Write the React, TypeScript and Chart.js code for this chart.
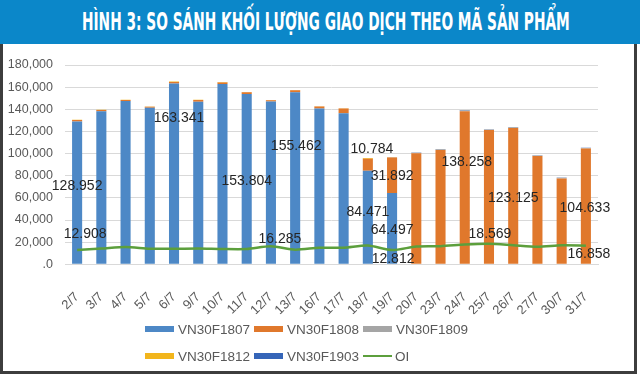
import React, { useEffect, useLayoutEffect, useRef } from 'react';
import { Chart, registerables } from 'chart.js';

Chart.register(...registerables);

const categories = ['2/7', '3/7', '4/7', '5/7', '6/7', '9/7', '10/7', '11/7', '12/7', '13/7', '16/7', '17/7', '18/7', '19/7', '20/7', '23/7', '24/7', '25/7', '26/7', '27/7', '30/7', '31/7'];

const vn30f1807 = [128952, 138300, 147400, 141300, 163341, 146800, 162900, 153804, 147000, 155462, 140800, 136500, 84471, 64497, 0, 0, 0, 0, 0, 0, 0, 0];
const vn30f1808 = [1300, 1000, 1000, 1000, 1400, 1600, 1400, 1500, 1100, 1800, 1800, 4300, 10784, 31892, 100200, 103200, 138258, 121200, 123125, 97700, 77500, 104633];
const vn30f1809 = [0, 0, 0, 0, 0, 0, 0, 0, 0, 0, 0, 0, 0, 300, 600, 600, 700, 600, 600, 600, 600, 400];
const vn30f1812 = [250, 250, 250, 250, 250, 250, 250, 250, 250, 250, 250, 250, 700, 300, 0, 0, 0, 0, 0, 0, 0, 0];
const vn30f1903 = [0, 0, 0, 0, 0, 0, 0, 0, 0, 0, 0, 0, 0, 0, 250, 250, 300, 250, 250, 250, 250, 200];
const oi = [12908, 14200, 15700, 14100, 14000, 14300, 13800, 13800, 16285, 13200, 15000, 15000, 16900, 12812, 16100, 16400, 17900, 18569, 17200, 15800, 17100, 16858];

const yTicks = [0, 20000, 40000, 60000, 80000, 100000, 120000, 140000, 160000, 180000];

const seriesNames = ['VN30F1807', 'VN30F1808', 'VN30F1809', 'VN30F1812', 'VN30F1903', 'OI'];
const seriesColors = ['#4d88c6', '#e0782c', '#a5a5a5', '#f2b51c', '#3565b8', '#5c9f3c'];

// value labels: dataset index, category index, anchor (in data units) where the label sits, pixel nudge
const labelSpecs = [
  { ds: 0, i: 0, at: 70200, dx: 0 },
  { ds: 5, i: 0, at: 27400, dx: 8 },
  { ds: 0, i: 4, at: 132300, dx: 5 },
  { ds: 0, i: 7, at: 75300, dx: 0 },
  { ds: 5, i: 8, at: 23100, dx: 9 },
  { ds: 0, i: 9, at: 107000, dx: 1 },
  { ds: 1, i: 12, at: 104200, dx: 4 },
  { ds: 0, i: 12, at: 46700, dx: 0 },
  { ds: 1, i: 13, at: 79200, dx: 0 },
  { ds: 0, i: 13, at: 31000, dx: 0 },
  { ds: 5, i: 13, at: 4500, dx: 1 },
  { ds: 1, i: 16, at: 92200, dx: 2 },
  { ds: 5, i: 17, at: 27400, dx: 1 },
  { ds: 1, i: 18, at: 60200, dx: 0 },
  { ds: 1, i: 21, at: 50900, dx: -1 },
  { ds: 5, i: 21, at: 9300, dx: 3 },
];

const fmtDot = (v: number) => String(Math.round(v)).replace(/\B(?=(\d{3})+(?!\d))/g, '.');
const fmtComma = (v: number) => (v === 0 ? '.0' : String(Math.round(v)).replace(/\B(?=(\d{3})+(?!\d))/g, ','));

const FONT = '"Liberation Sans", Arial, sans-serif';

const labelPlugin = {
  id: 'valueLabels',
  afterDatasetsDraw(chart: any) {
    const ctx = chart.ctx;
    const y = chart.scales.y;
    ctx.save();
    ctx.font = `14px ${FONT}`;
    ctx.fillStyle = '#262626';
    ctx.textAlign = 'center';
    ctx.textBaseline = 'middle';
    for (const s of labelSpecs) {
      const el = chart.getDatasetMeta(s.ds).data[s.i];
      const v = chart.data.datasets[s.ds].data[s.i];
      ctx.fillText(fmtDot(v), el.x + s.dx, y.getPixelForValue(s.at));
    }
    ctx.restore();
  },
};

function Title() {
  const ref = useRef<HTMLSpanElement>(null);
  useLayoutEffect(() => {
    const el = ref.current;
    if (!el) return;
    el.style.transform = 'none';
    const w = el.offsetWidth;
    if (w > 0) el.style.transform = `scaleX(${488 / w})`;
  }, []);
  return (
    <div style={{ position: 'absolute', left: 0, top: 0, width: 640, height: 44, background: '#0b87c9' }}>
      <span
        ref={ref}
        style={{
          position: 'absolute',
          left: 82,
          top: 7,
          whiteSpace: 'nowrap',
          transformOrigin: 'left center',
          color: '#ffffff',
          fontFamily: '"Liberation Sans Narrow", "DejaVu Sans Condensed", "Liberation Sans", sans-serif',
          fontWeight: 700,
          fontSize: 25,
          lineHeight: '30px',
        }}
      >
        HÌNH 3: SO SÁNH KHỐI LƯỢNG GIAO DỊCH THEO MÃ SẢN PHẨM
      </span>
    </div>
  );
}

function Legend() {
  const pos = [
    { x: 145, y: 329 },
    { x: 254, y: 329 },
    { x: 363, y: 329 },
    { x: 145, y: 356 },
    { x: 254, y: 356 },
    { x: 363, y: 356 },
  ];
  return (
    <>
      {seriesNames.map((n, k) => (
        <div key={n} style={{ position: 'absolute', left: pos[k].x, top: pos[k].y - 10, height: 20, display: 'flex', alignItems: 'center' }}>
          <div style={{ width: 29, height: k === 5 ? 2 : 6, background: seriesColors[k] }} />
          <span style={{ marginLeft: k === 5 ? 3 : 4, fontFamily: FONT, fontSize: 13.5, color: '#595959', whiteSpace: 'nowrap' }}>{n}</span>
        </div>
      ))}
    </>
  );
}

export default function App() {
  const canvasRef = useRef<HTMLCanvasElement>(null);

  useEffect(() => {
    document.body.style.margin = '0';
    const canvas = canvasRef.current;
    if (!canvas) return;
    const barDs = (k: number, data: number[]) => ({
      type: 'bar' as const,
      label: seriesNames[k],
      data,
      backgroundColor: seriesColors[k],
      stack: 'vol',
      order: 1,
      categoryPercentage: 0.8,
      barPercentage: 0.52,
    });
    const chart = new Chart(canvas, {
      data: {
        labels: categories,
        datasets: [
          barDs(0, vn30f1807),
          barDs(1, vn30f1808),
          barDs(2, vn30f1809),
          barDs(3, vn30f1812),
          barDs(4, vn30f1903),
          {
            type: 'line' as const,
            label: 'OI',
            data: oi,
            borderColor: seriesColors[5],
            borderWidth: 2.5,
            pointRadius: 0,
            tension: 0.25,
            stack: 'oi',
            order: -1,
          },
        ],
      } as any,
      options: {
        responsive: false,
        animation: false,
        layout: { padding: { top: 65, left: 0, right: 42, bottom: 62.7 } },
        plugins: { legend: { display: false }, tooltip: { enabled: false } },
        scales: {
          x: {
            stacked: true,
            grid: { display: false },
            border: { display: true, color: '#d9d9d9' },
            ticks: {
              autoSkip: false,
              minRotation: 45,
              maxRotation: 45,
              padding: 17,
              color: '#595959',
              font: { family: FONT, size: 13 },
            },
            afterFit: (s: any) => {
              s.height = 50;
            },
          },
          y: {
            stacked: true,
            min: 0,
            max: 180000,
            afterBuildTicks: (s: any) => {
              s.ticks = yTicks.map((v) => ({ value: v }));
            },
            grid: { color: '#d9d9d9', drawTicks: false },
            border: { display: false },
            ticks: {
              padding: 12,
              color: '#595959',
              font: { family: FONT, size: 12.5 },
              callback: (v: any) => fmtComma(Number(v)),
            },
            afterFit: (s: any) => {
              s.width = 65;
            },
          },
        },
      },
      plugins: [labelPlugin],
    });
    return () => chart.destroy();
  }, []);

  return (
    <div style={{ position: 'relative', width: 640, height: 377, background: '#ffffff', overflow: 'hidden' }}>
      <canvas ref={canvasRef} width={640} height={377} style={{ position: 'absolute', left: 0, top: 0, width: 640, height: 377 }} />
      <Title />
      <Legend />
      <div style={{ position: 'absolute', left: 0, top: 44, width: 3, height: 330, background: '#3d3d3d' }} />
      <div style={{ position: 'absolute', left: 634, top: 44, width: 3, height: 330, background: '#3d3d3d' }} />
      <div style={{ position: 'absolute', left: 0, top: 371, width: 637, height: 3, background: '#3d3d3d' }} />
    </div>
  );
}
